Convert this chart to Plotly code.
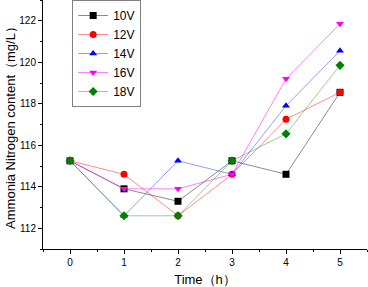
import plotly.graph_objects as go

time_h = [0, 1, 2, 3, 4, 5]
series_names = ["10V", "12V", "14V", "16V", "18V"]
v10 = [115.25, 113.9, 113.3, 115.25, 114.6, 118.55]
v12 = [115.25, 114.6, 112.6, 114.6, 117.25, 118.55]
v14 = [115.25, 112.6, 115.25, 114.6, 117.9, 120.55]
v16 = [115.25, 113.9, 113.9, 114.6, 119.2, 121.85]
v18 = [115.25, 112.6, 112.6, 115.25, 116.55, 119.85]
x_ticks = [0, 1, 2, 3, 4, 5]
y_ticks = [112, 114, 116, 118, 120, 122]

values = [v10, v12, v14, v16, v18]
marker_colors = ["#000000", "#ff0000", "#0000ff", "#ff00ff", "#008000"]
line_colors = ["rgba(0,0,0,0.45)", "rgba(255,0,0,0.45)", "rgba(0,0,255,0.4)",
               "rgba(255,0,255,0.5)", "rgba(0,128,0,0.4)"]
symbols = ["square", "circle", "triangle-up", "triangle-down", "diamond"]

fig = go.Figure()
for name, vals, mc, lc, sym in zip(series_names, values, marker_colors, line_colors, symbols):
    fig.add_trace(go.Scatter(
        x=time_h, y=vals, name=name, mode="lines+markers",
        line=dict(color=lc, width=1),
        marker=dict(color=mc, symbol=sym, size=7, line=dict(width=0)),
    ))

font_family = "Liberation Sans, Arial, sans-serif"
fig.update_layout(
    width=368, height=287,
    margin=dict(l=43, r=1, t=0, b=38),
    plot_bgcolor="white", paper_bgcolor="white",
    font=dict(family=font_family, color="black", size=10),
    showlegend=True,
    legend=dict(
        x=0.09, y=1, xanchor="left", yanchor="top",
        bordercolor="#808080", borderwidth=1, bgcolor="white",
        font=dict(size=12), itemwidth=30, tracegroupgap=0,
    ),
    xaxis=dict(
        range=[-0.5, 5.5], tickvals=x_ticks, showgrid=False, zeroline=False,
        showline=True, linecolor="black", linewidth=1, ticks="outside",
        ticklen=4, tickcolor="black", automargin=False,
        minor=dict(dtick=0.5, ticks="outside", ticklen=2, tickcolor="black", showgrid=False),
        title=dict(text="Time（h）", font=dict(size=13), standoff=7),
        tickfont=dict(size=10),
    ),
    yaxis=dict(
        range=[111, 123], tickvals=y_ticks, showgrid=False, zeroline=False,
        showline=True, linecolor="black", linewidth=1, ticks="outside",
        ticklen=4, tickcolor="black", automargin=False,
        minor=dict(dtick=1, ticks="outside", ticklen=2, tickcolor="black", showgrid=False),
        title=dict(text="Ammonia Nitrogen content（mg/L）", font=dict(size=13), standoff=0),
        tickfont=dict(size=10),
    ),
)

fig.write_html("out.html", config={"displayModeBar": False},
               post_script="document.body.style.margin='0px';")
